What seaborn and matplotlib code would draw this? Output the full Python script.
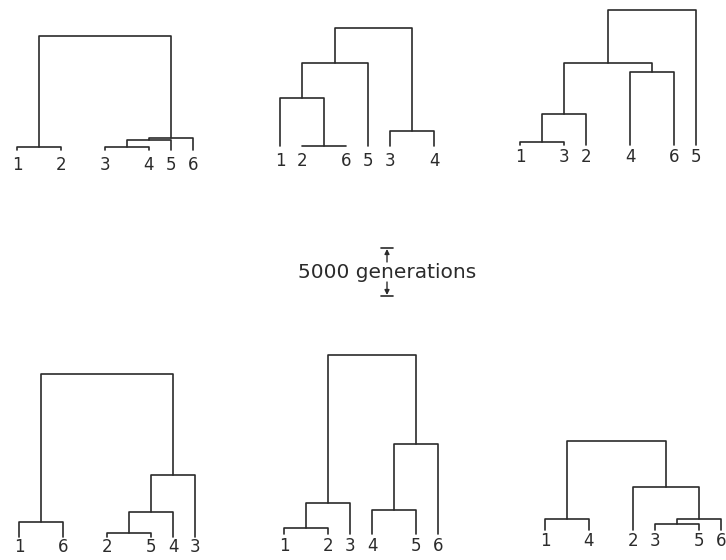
import matplotlib
matplotlib.use('Agg')
import pandas as pd
import seaborn as sns
import matplotlib.pyplot as plt

W, H = 726, 560
GEN_PER_PX = 5000 / 48      # scale bar: 5000 generations
SLOT_PX = 22                # horizontal spacing of leaf slots
INK = '#2b2b2b'

# six trees; merges are (child, child, generations), leaves are 0-5,
# merged nodes are numbered 6, 7, ... in the order they appear
labels_1 = ['1', '2', '3', '4', '5', '6']
slots_1 = [0, 2, 4, 6, 7, 8]
merges_1 = [(0, 1, 300), (2, 3, 350), (7, 4, 1050), (8, 5, 1250), (6, 9, 11850)]

labels_2 = ['1', '2', '6', '5', '3', '4']
slots_2 = [0, 1, 3, 4, 5, 7]
merges_2 = [(1, 2, 0), (0, 6, 5000), (7, 3, 8650), (4, 5, 1550), (8, 9, 12300)]

labels_3 = ['1', '3', '2', '4', '6', '5']
slots_3 = [0, 2, 3, 5, 7, 8]
merges_3 = [(0, 1, 300), (6, 2, 3250), (3, 4, 7600), (7, 8, 8550), (9, 5, 14050)]

labels_4 = ['1', '6', '2', '5', '4', '3']
slots_4 = [0, 2, 4, 6, 7, 8]
merges_4 = [(0, 1, 1550), (2, 3, 400), (7, 4, 2600), (8, 5, 6450), (6, 9, 16950)]

labels_5 = ['1', '2', '3', '4', '5', '6']
slots_5 = [0, 2, 3, 4, 6, 7]
merges_5 = [(0, 1, 600), (6, 2, 3200), (3, 4, 2500), (8, 5, 9350), (7, 9, 18600)]

labels_6 = ['1', '4', '2', '3', '5', '6']
slots_6 = [0, 2, 4, 5, 7, 8]
merges_6 = [(0, 1, 1150), (3, 4, 600), (7, 5, 1150), (2, 8, 4500), (6, 9, 9250)]

trees = [(labels_1, slots_1, merges_1), (labels_2, slots_2, merges_2),
         (labels_3, slots_3, merges_3), (labels_4, slots_4, merges_4),
         (labels_5, slots_5, merges_5), (labels_6, slots_6, merges_6)]

# where each panel sits on the page: first leaf x, leaf baseline y,
# gap down to the labels (pixels)
anchors = [(17, 150, 6), (280, 146, 6), (520, 145, 3),
           (19, 537, 1), (284, 534, 3), (545, 530, 2)]


def tree_segments(slots, merges):
    '''turn leaf slots and merges into one bracket path per merge'''
    xs = list(slots)
    hs = [0] * len(slots)
    rows = []
    for k, (a, b, h) in enumerate(merges):
        path = [(xs[a], hs[a]), (xs[a], h), (xs[b], h), (xs[b], hs[b])]
        for i, (x, y) in enumerate(path):
            rows.append({'seg': k, 'step': i, 'x': x, 'gen': y})
        xs.append((xs[a] + xs[b]) / 2)
        hs.append(h)
    return pd.DataFrame(rows)


sns.set_theme(style='white')
plt.rcParams['font.family'] = ['DejaVu Sans']

fig = plt.figure(figsize=(W / 100, H / 100), dpi=100)
fig.patch.set_facecolor('white')

for (labels, slots, merges), (x0, base, gap) in zip(trees, anchors):
    left = x0 - SLOT_PX
    ax = fig.add_axes([left / W, 1 - (base + 30) / H, 10 * SLOT_PX / W, 220 / H])
    ax.set_facecolor('none')
    df = tree_segments(slots, merges)
    sns.lineplot(data=df, x='x', y='gen', units='seg', estimator=None,
                 sort=False, color=INK, linewidth=1.2, ax=ax)
    for lab, s in zip(labels, slots):
        ax.text(s, -gap * GEN_PER_PX, lab, ha='center', va='top',
                fontsize=12, color=INK)
    ax.set_xlim(-1, 9)
    ax.set_ylim(-30 * GEN_PER_PX, 190 * GEN_PER_PX)
    ax.axis('off')

# scale bar in the middle of the page
sx = fig.add_axes([0, 0, 1, 1])
sx.set_facecolor('none')
sx.set_xlim(0, W)
sx.set_ylim(H, 0)
sx.axis('off')
bar_x, bar_top = 387, 248
bar_len = 5000 / GEN_PER_PX
bar_bot = bar_top + bar_len
sx.plot([bar_x - 6, bar_x + 6], [bar_top, bar_top], color=INK, lw=1.2)
sx.plot([bar_x - 6, bar_x + 6], [bar_bot, bar_bot], color=INK, lw=1.2)
arrow = dict(arrowstyle='-|>', color=INK, lw=1.0, mutation_scale=7,
             shrinkA=0, shrinkB=0)
sx.annotate('', xy=(bar_x, bar_top + 1), xytext=(bar_x, bar_top + 14), arrowprops=arrow)
sx.annotate('', xy=(bar_x, bar_bot - 1), xytext=(bar_x, bar_bot - 14), arrowprops=arrow)
sx.text(bar_x, (bar_top + bar_bot) / 2 + 1, '5000 generations', ha='center',
        va='center', fontsize=14.5, color=INK)

fig.savefig('out.png', dpi=100, facecolor='white')
